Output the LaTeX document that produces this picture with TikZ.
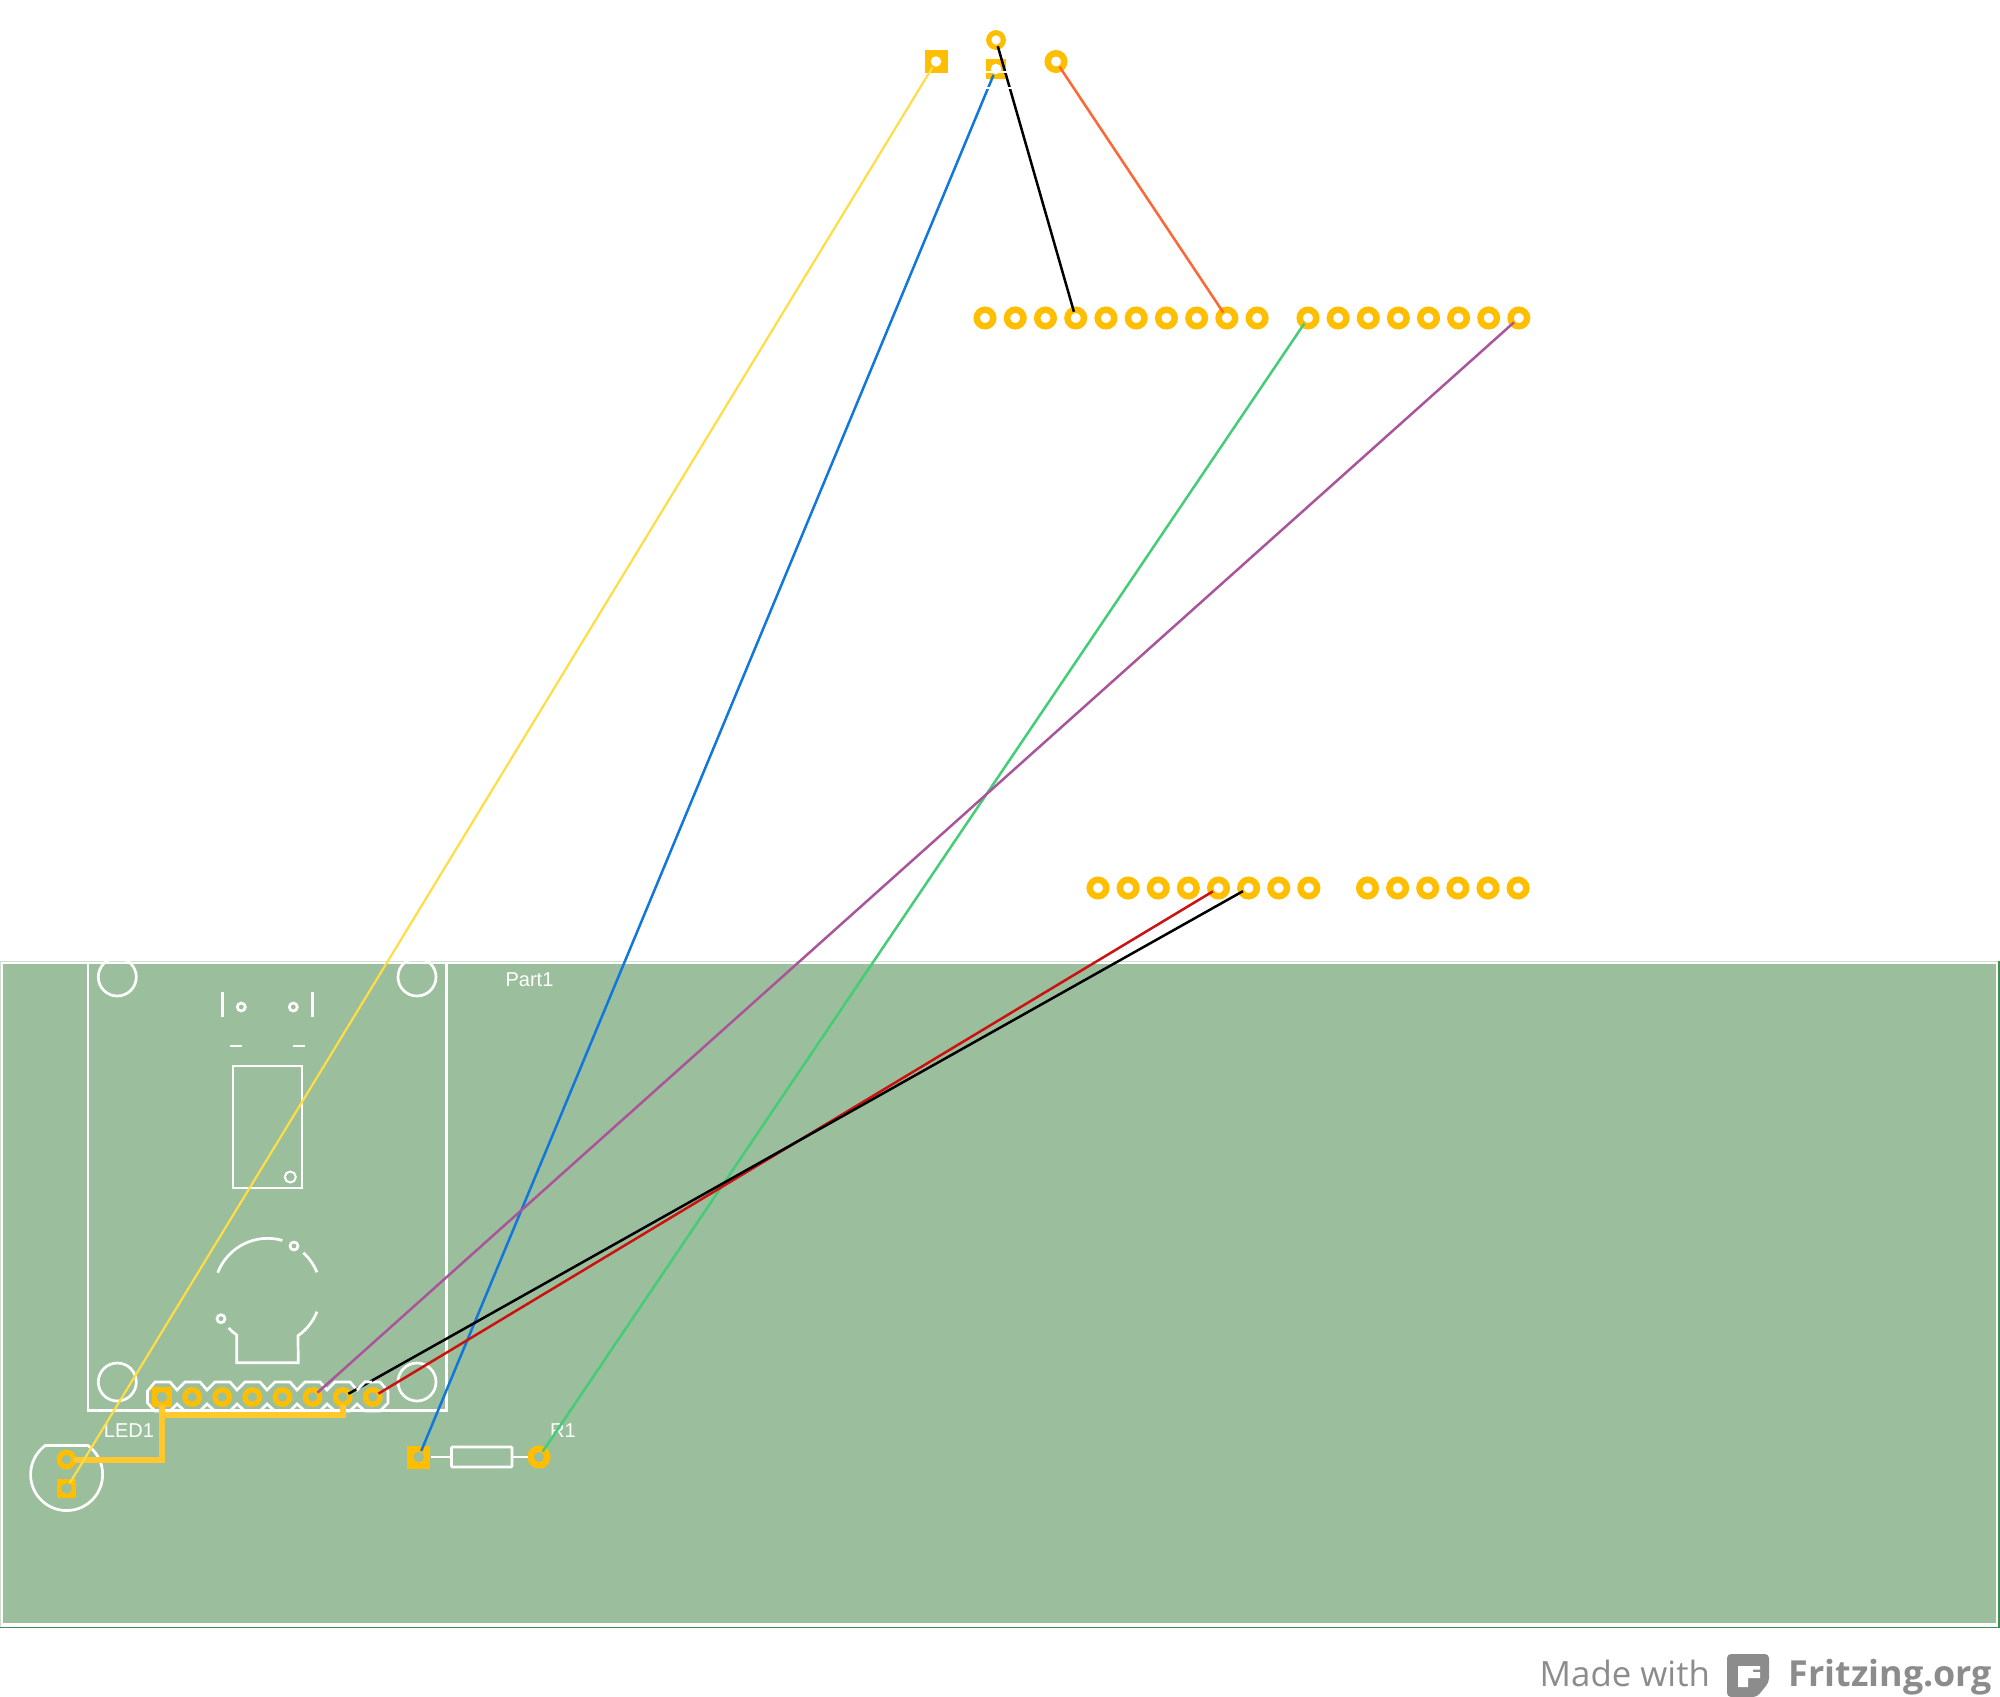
\documentclass[tikz,border=0pt]{standalone}
\usepackage{xcolor}
\usepackage{fontspec}
\setmainfont{Liberation Sans}
\newfontfamily\footfont{Open Sans}
\usepackage{tikz}
\usetikzlibrary{shapes,arrows}
\definecolor{boardgreen}{HTML}{9BBE9D}
\definecolor{boardedge}{HTML}{CFDFCF}
\definecolor{boarddark}{HTML}{3F8F4F}
\definecolor{padyellow}{HTML}{FFBF00}
\definecolor{traceyellow}{HTML}{FFC82E}
\definecolor{wireyellow}{HTML}{FFDD44}
\definecolor{wireblue}{HTML}{1177DD}
\definecolor{wireorange}{HTML}{FF6633}
\definecolor{wiregreen}{HTML}{44CC77}
\definecolor{wirepurple}{HTML}{AA5599}
\definecolor{wirered}{HTML}{CC1111}
\definecolor{footgray}{HTML}{8C8C8C}
\tikzstyle{pad} = [circle, draw=padyellow, line width=0.065cm, inner sep=0pt, minimum size=0.165cm]
\tikzstyle{smallpad} = [circle, draw=padyellow, line width=0.052cm, inner sep=0pt, minimum size=0.145cm]
\tikzstyle{sqpad} = [rectangle, fill=padyellow, inner sep=0pt, minimum size=0.23cm]
\tikzstyle{smallsqpad} = [rectangle, fill=padyellow, inner sep=0pt, minimum size=0.195cm]
\tikzstyle{hole} = [circle, fill=white, inner sep=0pt, minimum size=0.105cm]
\tikzstyle{boardhole} = [circle, fill=boardgreen, inner sep=0pt, minimum size=0.105cm]
\tikzstyle{wire} = [draw, line width=0.025cm, shorten >=0.065cm, shorten <=0.065cm]
\tikzstyle{trace} = [draw=traceyellow, line width=0.06cm, line cap=round]
\tikzstyle{silk} = [draw=white, line width=0.027cm]
\tikzstyle{thinsilk} = [draw=white, line width=0.02cm]
\tikzstyle{silktext} = [text=white, inner sep=0pt, font=\fontsize{5.7}{7}\selectfont]
\tikzstyle{foot} = [text=footgray, inner sep=0pt, anchor=base west]

\begin{document}
\begin{tikzpicture}[x=0.01cm, y=-0.01cm, node distance = 0.301cm]
			\useasboundingbox (0,0) rectangle (2000,1697);
			% board
			\path [draw=boardedge, fill=white, line width=0.012cm] (0.5,961.5) rectangle (1999,1627.5);
			\fill [boardgreen] (2.5,964) rectangle (1996,1623);
			\path [draw=boarddark, line width=0.015cm] (0,1627.5) -- (1999.2,1627.5) -- (1999.2,961);

			% silkscreen of the module
			\path [silk] (88,962) -- (88,1410.5) -- (446.5,1410.5) -- (446.5,962);
			\path [silk] (117.3,977) circle (19);
			\path [silk] (417,977) circle (19);
			\path [silk] (117.3,1382) circle (19);
			\path [silk] (417,1382) circle (19);
			\path [silk] (222.3,992) -- (222.3,1017);
			\path [silk] (312.3,992) -- (312.3,1017);
			\path [silk] (241.3,1007) circle (4);
			\path [silk] (293.3,1007) circle (4);
			\path [silk] (230,1046) -- (242,1046);
			\path [silk] (293,1046) -- (305,1046);
			\path [thinsilk] (232.7,1065.5) rectangle (302,1188);
			\path [thinsilk] (290.3,1177) circle (5.5);
			\path [silk] (217.7,1272.7) arc [start angle=159, end angle=74, radius=0.535cm];
			\path [silk] (303.3,1252.7) arc [start angle=47.7, end angle=22, radius=0.535cm];
			\path [silk] (317,1311.7) arc [start angle=-21.7, end angle=-55, radius=0.535cm]
				-- (298.3,1362.7) -- (236.7,1362.7) -- (236.7,1335)
				arc [start angle=-125.6, end angle=-137, radius=0.535cm];
			\path [silk] (294,1246) circle (4);
			\path [silk] (221,1318.7) circle (4);
			\path [silk] (147.5,1391) -- (155,1382) -- (170,1382) -- (177,1390) -- (185,1382) -- (200,1382)
				-- (207,1390) -- (215,1382) -- (230,1382) -- (237,1390) -- (245,1382) -- (260,1382)
				-- (267,1390) -- (275,1382) -- (290,1382) -- (297,1390) -- (305,1382) -- (320,1382)
				-- (327,1390) -- (335,1382) -- (350,1382) -- (357,1390) -- (365,1382) -- (380,1382)
				-- (388,1391) -- (388,1403) -- (380,1411) -- (365,1411) -- (357,1404) -- (350,1411)
				-- (335,1411) -- (327,1404) -- (320,1411) -- (305,1411) -- (297,1404) -- (290,1411)
				-- (275,1411) -- (267,1404) -- (260,1411) -- (245,1411) -- (237,1404) -- (230,1411)
				-- (215,1411) -- (207,1404) -- (200,1411) -- (185,1411) -- (177,1404) -- (170,1411)
				-- (155,1411) -- (147.5,1403) -- cycle;
			\path [silk] (45.3,1445.5) arc [start angle=126.3, end angle=413.7, radius=0.36cm] -- cycle;

			% labels
			\node [silktext] (part1) at (529.5,980) {Part1};
			\node [silktext] (led1) at (129,1431) {LED1};
			\node [silktext] (r1) at (563,1431) {R1};

			% top part
			\node [sqpad] (topleft) at (936,61.5) {};
			\node [hole] (topleftHole) at (topleft.center) {};
			\node [smallpad] (topmid) at (996,40) {};
			\node [smallsqpad] (topgate) at (996,69) {};
			\node [hole] (topgateHole) at (topgate.center) {};
			\node [pad] (topright) at (1056,61.5) {};

			% upper header row
			\node [pad] (ua1) at (985,318) {};
			\node [pad, right of=ua1, node distance=0.3022cm] (ua2) {};
			\node [pad, right of=ua2, node distance=0.3022cm] (ua3) {};
			\node [pad, right of=ua3, node distance=0.3022cm] (ua4) {};
			\node [pad, right of=ua4, node distance=0.3022cm] (ua5) {};
			\node [pad, right of=ua5, node distance=0.3022cm] (ua6) {};
			\node [pad, right of=ua6, node distance=0.3022cm] (ua7) {};
			\node [pad, right of=ua7, node distance=0.3022cm] (ua8) {};
			\node [pad, right of=ua8, node distance=0.3022cm] (ua9) {};
			\node [pad, right of=ua9, node distance=0.3022cm] (ua10) {};
			\node [pad] (ub1) at (1308,318) {};
			\node [pad, right of=ub1] (ub2) {};
			\node [pad, right of=ub2] (ub3) {};
			\node [pad, right of=ub3] (ub4) {};
			\node [pad, right of=ub4] (ub5) {};
			\node [pad, right of=ub5] (ub6) {};
			\node [pad, right of=ub6] (ub7) {};
			\node [pad, right of=ub7] (ub8) {};

			% lower header row
			\node [pad] (la1) at (1098,888) {};
			\node [pad, right of=la1] (la2) {};
			\node [pad, right of=la2] (la3) {};
			\node [pad, right of=la3] (la4) {};
			\node [pad, right of=la4] (la5) {};
			\node [pad, right of=la5] (la6) {};
			\node [pad, right of=la6] (la7) {};
			\node [pad, right of=la7] (la8) {};
			\node [pad] (lb1) at (1367.5,888) {};
			\node [pad, right of=lb1] (lb2) {};
			\node [pad, right of=lb2] (lb3) {};
			\node [pad, right of=lb3] (lb4) {};
			\node [pad, right of=lb4] (lb5) {};
			\node [pad, right of=lb5] (lb6) {};

			% module header
			\node [smallsqpad] (hd1) at (162,1397) {};
			\node [boardhole] (hd1Hole) at (hd1.center) {};
			\node [smallpad, right of=hd1] (hd2) {};
			\node [smallpad, right of=hd2] (hd3) {};
			\node [smallpad, right of=hd3] (hd4) {};
			\node [smallpad, right of=hd4] (hd5) {};
			\node [smallpad, right of=hd5] (hd6) {};
			\node [smallpad, right of=hd6] (hd7) {};
			\node [smallpad, right of=hd7] (hd8) {};

			% LED
			\node [smallpad] (ledk) at (66.5,1459.5) {};
			\node [smallsqpad] (leda) at (66.5,1488.5) {};
			\node [boardhole] (ledaHole) at (leda.center) {};

			% resistor
			\node [sqpad] (r1a) at (418.7,1457) {};
			\node [boardhole] (r1aHole) at (r1a.center) {};
			\node [pad] (r1b) at (539,1457) {};
			\node [rectangle, silk, rounded corners=0.3pt, inner sep=0pt, minimum width=0.605cm, minimum height=0.2cm] (r1body) at (481.8,1457) {};
			\path [silk] (r1a) -- (r1body);
			\path [silk] (r1body) -- (r1b);

			% copper trace
			\coordinate (tracecorner) at (162.5,1415);
			\path [trace] (ledk.east) -| (hd1.south);
			\path [trace] (tracecorner) -| (hd7.south);

			% Draw edges
			\path [wire, draw=wireyellow, line width=0.022cm] (topleft.center) -- (leda.center);
			\path [wire, draw=wireblue] (topgate.center) -- (r1a.center);
			\path [wire, draw=black] (topmid.center) -- (ua4.center);
			\path [wire, draw=wireorange] (topright.center) -- (ua9.center);
			\path [wire, draw=wiregreen] (ub1.center) -- (r1b.center);
			\path [wire, draw=wirepurple] (ub8.center) -- (hd6.center);
			\path [wire, draw=wirered] (la5.center) -- (hd8.center);
			\path [wire, draw=black] (la6.center) -- (hd7.center);

			% silkscreen lines running over the wires
			\path [draw=white, line width=0.02cm] (986,72) -- (1008,72);
			\path [draw=white, line width=0.02cm] (986,88) -- (1014,88);
			\path [silk] (357,1390) -- (365,1382) -- (372,1382);

			% footer
			\node [foot, font=\footfont\fontsize{9.9}{12}\selectfont] (madewith) at (1539,1686) {Made with};
			\node [foot, font=\footfont\bfseries\fontsize{10.2}{12}\selectfont] (fritzing) at (1788,1686) {Fritzing.org};
			\fill [footgray, rounded corners=0.04cm] (1727,1654) -- (1769,1654) -- (1769,1682) -- (1757,1697) -- (1727,1697) -- cycle;
			\fill [white] (1738,1666) -- (1760,1666) -- (1760,1669.5) -- (1753,1669.5) -- (1753,1672) -- (1760,1672) -- (1760,1678) -- (1748,1678) -- (1748,1687) -- (1738,1687) -- cycle;
%
	\end{tikzpicture}
\end{document}
